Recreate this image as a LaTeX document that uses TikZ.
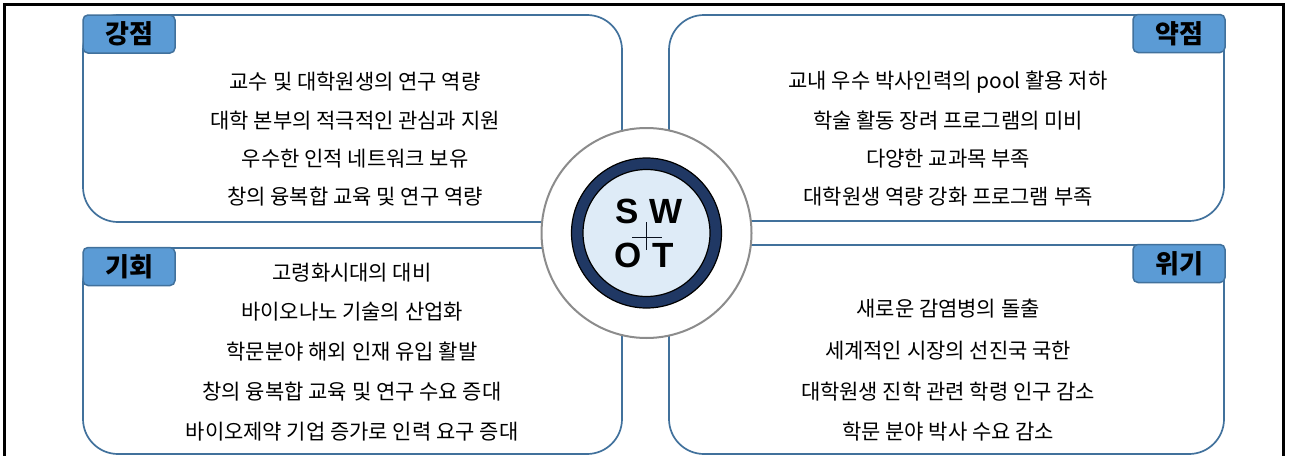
\documentclass[tikz,border=0pt]{standalone}
\usepackage{fontspec}
\newfontfamily\kr{Noto Sans CJK KR}
\newfontfamily\arl{Liberation Sans}
\definecolor{boxblue}{HTML}{41719C}
\definecolor{labfill}{HTML}{5B9BD5}
\definecolor{navy}{HTML}{203864}
\definecolor{lightfill}{HTML}{DEEBF7}
\definecolor{ringgray}{HTML}{8C8C8C}
\begin{document}
\begin{tikzpicture}[x=1pt,y=-1pt,
  quad/.style={draw=boxblue, line width=1.7pt, rounded corners=35pt, fill=white},
  tag/.style={draw=boxblue, line width=1.5pt, fill=labfill, rounded corners=5pt,
    minimum width=92pt, minimum height=38pt, inner sep=0pt,
    font=\kr\bfseries\fontsize{26}{30}\selectfont},
  item/.style={font=\kr\fontsize{21}{25}\selectfont, inner sep=0pt},
  letter/.style={font=\arl\bfseries\fontsize{35}{40}\selectfont, inner sep=0pt, anchor=base},
  ring/.style={circle, inner sep=0pt}]
\useasboundingbox (0,0) rectangle (1289,455);
\clip (0,0) rectangle (1289,455);
\fill[white] (0,0) rectangle (1289,455);
\draw[line width=3pt] (4.5,470) -- (4.5,4.5) -- (1283.5,4.5) -- (1283.5,470);

% quadrant boxes
\draw[quad] (83,15) rectangle (622,222);
\draw[quad] (669,15) rectangle (1224,221);
\draw[quad] (83,248) rectangle (622,454);
\draw[quad] (669,245) rectangle (1224,454);

% tags
\node[tag] (t1) at (129,34) {강점};
\node[tag] (t2) at (1179,33.5) {약점};
\node[tag] (t3) at (129,266.5) {기회};
\node[tag] (t4) at (1179,263.5) {위기};

% strengths
\node[item] (s1) at (355,82) {교수 및 대학원생의 연구 역량};
\node[item] (s2) at (355,121) {대학 본부의 적극적인 관심과 지원};
\node[item] (s3) at (355,159) {우수한 인적 네트워크 보유};
\node[item] (s4) at (355,197) {창의 융복합 교육 및 연구 역량};

% weaknesses
\node[item] (w1) at (948,82) {교내 우수 박사인력의 pool 활용 저하};
\node[item] (w2) at (948,121) {학술 활동 장려 프로그램의 미비};
\node[item] (w3) at (948,159) {다양한 교과목 부족};
\node[item] (w4) at (948,197) {대학원생 역량 강화 프로그램 부족};

% opportunities
\node[item] (o1) at (352,273) {고령화시대의 대비};
\node[item] (o2) at (352,312) {바이오나노 기술의 산업화};
\node[item] (o3) at (352,352) {학문분야 해외 인재 유입 활발};
\node[item] (o4) at (352,392) {창의 융복합 교육 및 연구 수요 증대};
\node[item] (o5) at (352,432) {바이오제약 기업 증가로 인력 요구 증대};

% threats
\node[item] (h1) at (948,309) {새로운 감염병의 돌출};
\node[item] (h2) at (948,351) {세계적인 시장의 선진국 국한};
\node[item] (h3) at (948,392) {대학원생 진학 관련 학령 인구 감소};
\node[item] (h4) at (948,432) {학문 분야 박사 수요 감소};

% centre circle
\node[ring, draw=ringgray, line width=2pt, fill=white, minimum size=210pt] (c0) at (646.5,233) {};
\node[ring, draw=black, line width=1.2pt, fill=navy, minimum size=150pt] (c1) at (c0.center) {};
\node[ring, draw=black, line width=1.2pt, fill=lightfill, minimum size=127pt] (c2) at (c0.center) {};
\draw[line width=0.8pt, color=black!70!navy] (632,237) -- (662,237) (646,222) -- (646,250);
\node[letter] (lS) at (627.5,223) {S};
\node[letter] (lW) at (666.5,223) {W};
\node[letter] (lO) at (628.5,267) {O};
\node[letter] (lT) at (663.5,267) {T};
\end{tikzpicture}
\end{document}
